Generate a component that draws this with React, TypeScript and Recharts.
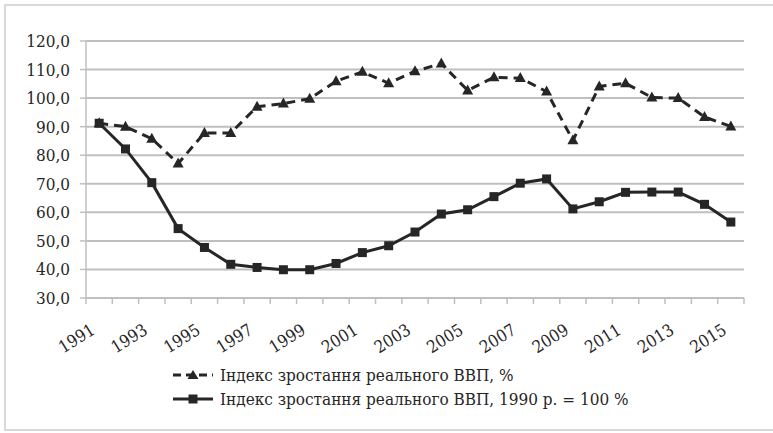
import React from "react";
import {
  LineChart,
  Line,
  XAxis,
  YAxis,
  CartesianGrid,
  Legend,
} from "recharts";

const years = [
  "1991", "1992", "1993", "1994", "1995", "1996", "1997", "1998", "1999",
  "2000", "2001", "2002", "2003", "2004", "2005", "2006", "2007", "2008",
  "2009", "2010", "2011", "2012", "2013", "2014", "2015",
];

// Індекс зростання реального ВВП, %
const growthIndex = [
  91.2, 90.0, 85.8, 77.1, 87.8, 87.8, 97.0, 98.1, 99.8, 105.9, 109.2, 105.2,
  109.4, 112.1, 102.7, 107.3, 107.0, 102.3, 85.2, 104.1, 105.2, 100.2, 100.0,
  93.4, 90.1,
];

// Індекс зростання реального ВВП, 1990 р. = 100 %
const cumulativeIndex = [
  91.2, 82.2, 70.4, 54.3, 47.7, 41.8, 40.7, 39.9, 39.9, 42.1, 45.9, 48.3,
  53.1, 59.4, 60.9, 65.5, 70.2, 71.7, 61.2, 63.7, 67.0, 67.1, 67.1, 62.8,
  56.6,
];

const yTicks = [30, 40, 50, 60, 70, 80, 90, 100, 110, 120];

const seriesNames = [
  "Індекс зростання реального ВВП, %",
  "Індекс зростання реального ВВП, 1990 р. = 100 %",
];

const data = years.map((year, i) => ({
  year,
  growth: growthIndex[i],
  cumulative: cumulativeIndex[i],
}));

const FONT = "'DejaVu Serif Condensed', 'DejaVu Serif', serif";
const INK = "#262626";
const GRID = "#bfbfbf";
const W = 773;
const H = 433;
const LEFT = 86;
const RIGHT = 29;
const BAND = (W - LEFT - RIGHT) / years.length;

const Triangle = (props: any) => {
  const { cx, cy } = props;
  if (cx == null || cy == null) return null;
  return (
    <polygon
      points={`${cx},${cy - 6} ${cx + 5.5},${cy + 4} ${cx - 5.5},${cy + 4}`}
      fill={INK}
    />
  );
};

const Square = (props: any) => {
  const { cx, cy } = props;
  if (cx == null || cy == null) return null;
  return <rect x={cx - 4.5} y={cy - 4.5} width={9} height={9} fill={INK} />;
};

const XTick = (props: any) => {
  const { x, y, payload, index } = props;
  const last = index === years.length - 1;
  const tx = x - 3;
  const ty = y + 27;
  return (
    <g>
      <line x1={x - BAND / 2} x2={x - BAND / 2} y1={y - 8} y2={y - 2} stroke={GRID} strokeWidth={1.5} />
      {last && (
        <line x1={x + BAND / 2} x2={x + BAND / 2} y1={y - 8} y2={y - 2} stroke={GRID} strokeWidth={1.5} />
      )}
      {index % 2 === 0 && (
        <text
          x={tx}
          y={ty}
          textAnchor="end"
          transform={`rotate(-32 ${tx} ${ty})`}
          fontFamily={FONT}
          fontSize={17}
          fill={INK}
        >
          {payload.value}
        </text>
      )}
    </g>
  );
};

const LegendContent = () => (
  <div style={{ paddingLeft: 173, fontFamily: FONT, fontSize: 17, color: INK, height: 48 }}>
    {seriesNames.map((name, i) => (
      <div key={name} style={{ display: "flex", alignItems: "center", height: 24 }}>
        <svg width={40} height={12} style={{ marginRight: 7 }}>
          <line
            x1={0}
            x2={40}
            y1={6}
            y2={6}
            stroke={INK}
            strokeWidth={3}
            strokeDasharray={i === 0 ? "8 5" : undefined}
          />
          {i === 0 ? (
            <polygon points="20,1 25.5,10 14.5,10" fill={INK} />
          ) : (
            <rect x={15.5} y={1.5} width={9} height={9} fill={INK} />
          )}
        </svg>
        <span>{name}</span>
      </div>
    ))}
  </div>
);

export default function App() {
  return (
    <div style={{ position: "absolute", left: 0, top: 0, width: W, height: H, background: "#fff", overflow: "hidden" }}>
      <div
        style={{
          position: "absolute",
          left: 4,
          top: 4,
          width: W + 10,
          height: H - 10,
          border: "2px solid #d9d9d9",
        }}
      />
      <div style={{ position: "absolute", left: 0, top: 0 }}>
        <LineChart
          width={W}
          height={H}
          data={data}
          margin={{ top: 41, right: RIGHT, bottom: 22, left: 0 }}
        >
          <CartesianGrid vertical={false} stroke={GRID} strokeWidth={2} />
          <XAxis
            dataKey="year"
            scale="band"
            interval={0}
            height={65}
            tickLine={false}
            axisLine={{ stroke: GRID, strokeWidth: 1.5 }}
            tick={<XTick />}
          />
          <YAxis
            domain={[30, 120]}
            ticks={yTicks}
            interval={0}
            width={LEFT}
            tickSize={6}
            tickMargin={10}
            tickFormatter={(v: number) => v.toFixed(1).replace(".", ",")}
            tick={{ fontFamily: FONT, fontSize: 17, fill: INK }}
            axisLine={{ stroke: GRID, strokeWidth: 1.5 }}
            tickLine={{ stroke: GRID, strokeWidth: 1.5 }}
          />
          <Legend verticalAlign="bottom" align="left" content={<LegendContent />} />
          <Line
            dataKey="growth"
            name={seriesNames[0]}
            stroke={INK}
            strokeWidth={3}
            strokeDasharray="9 6"
            dot={<Triangle />}
            isAnimationActive={false}
          />
          <Line
            dataKey="cumulative"
            name={seriesNames[1]}
            stroke={INK}
            strokeWidth={3}
            dot={<Square />}
            isAnimationActive={false}
          />
        </LineChart>
      </div>
    </div>
  );
}
